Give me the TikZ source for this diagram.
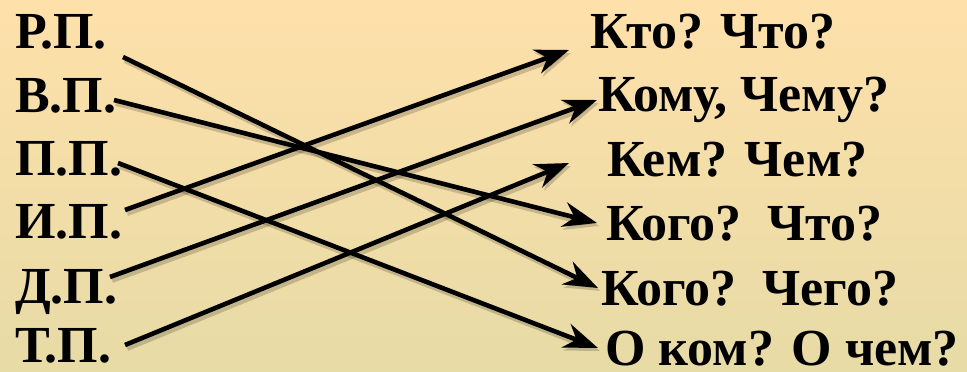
\documentclass[tikz,border=0pt]{standalone}
\usepackage{fontspec}
\newfontfamily\capfont{Liberation Serif}[UprightFont={* Bold}]
\usetikzlibrary{arrows.meta}
\definecolor{bgtop}{HTML}{FEE0AA}
\definecolor{bgbot}{HTML}{E7DBA6}
\tikzset{
  lbl/.style={anchor=base west, inner sep=0pt, text depth=0pt, font=\capfont\fontsize{52}{52}\selectfont, text=black},
  conn/.style={line width=4.6pt, black, -{Stealth[length=34pt, width=25pt, inset=11pt]}},
  connshadow/.style={line width=6pt, black, opacity=0.18, -{Stealth[length=34pt, width=25pt, inset=11pt]}, transform canvas={shift={(2pt,-3pt)}}},
}
\begin{document}
\begin{tikzpicture}[x=1pt, y=-1pt]
\shade[top color=bgtop, bottom color=bgbot] (0,0) rectangle (967,372);
\useasboundingbox (0,0) rectangle (967,372);

% left labels
\node[lbl] (rp) at (15,48) {Р.П.};
\node[lbl] (vp) at (15,112) {В.П.};
\node[lbl] (pp) at (15,175) {П.П.};
\node[lbl] (ip) at (15,238) {И.П.};
\node[lbl] (dp) at (15,303) {Д.П.};
\node[lbl] (tp) at (15,362) {Т.П.};

% right labels
\node[lbl] (kto) at (590,48) {Кто? Что?};
\node[lbl] (komu) at (598,111) {Кому, Чему?};
\node[lbl] (kem) at (607,176) {Кем? Чем?};
\node[lbl] (kogochto) at (606,240) {Кого?\ \ Что?};
\node[lbl] (kogochego) at (601,305) {Кого?\ \ Чего?};
\node[lbl] (okom) at (605,365) {О ком? О чем?};

% connector end points
\coordinate (s1) at (123,57);  \coordinate (e1) at (598,288);
\coordinate (s2) at (114,100); \coordinate (e2) at (597,223);
\coordinate (s3) at (118,163); \coordinate (e3) at (598,348);
\coordinate (s4) at (125,210); \coordinate (e4) at (569,50);
\coordinate (s5) at (110,277); \coordinate (e5) at (597,100);
\coordinate (s6) at (125,345); \coordinate (e6) at (569,163);

\foreach \i in {1,...,6} {
  \draw[connshadow] (s\i) -- (e\i);
}
\foreach \i in {1,...,6} {
  \draw[conn] (s\i) -- (e\i);
}
\end{tikzpicture}
\end{document}
